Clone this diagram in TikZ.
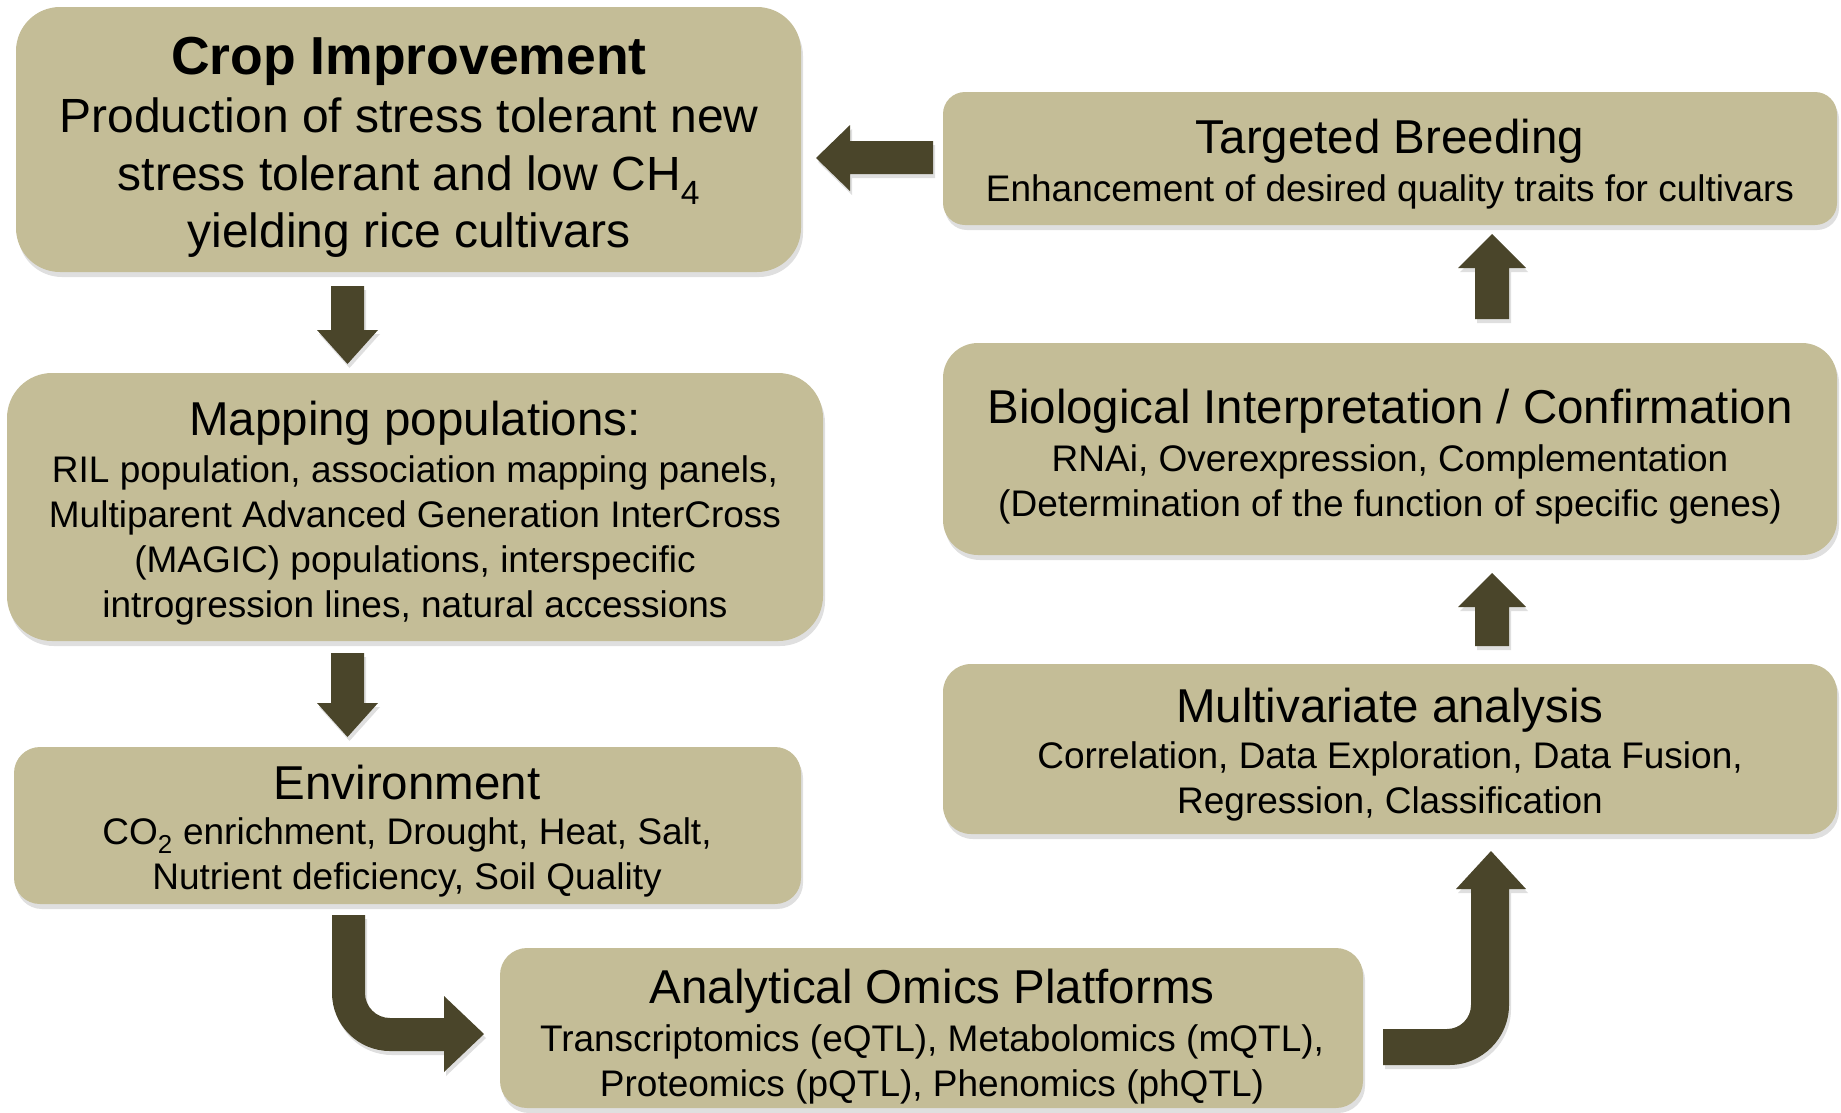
\documentclass[tikz,border=0pt]{standalone}
\usepackage{fontspec}
\setmainfont{Liberation Sans}
\usetikzlibrary{shadows}
\definecolor{boxtan}{HTML}{C4BD97}
\definecolor{arrowdk}{HTML}{4A452A}
\tikzset{
  box/.style={fill=boxtan, draw=none, inner sep=0pt, outer sep=0pt,
    drop shadow={shadow xshift=2pt, shadow yshift=-5pt, opacity=0.25}},
  ttl/.style={inner sep=0pt, text=black, font=\fontsize{47.5}{52}\selectfont},
  bdy/.style={inner sep=0pt, align=center, text=black, font=\fontsize{37}{45}\selectfont},
  blockarrow/.style={fill=arrowdk, draw=none,
    drop shadow={shadow xshift=2pt, shadow yshift=-4pt, opacity=0.25}}
}
\begin{document}
\begin{tikzpicture}[x=1pt,y=-1pt]
\useasboundingbox (0,0) rectangle (1841,1112);
% boxes
\node[box, rounded corners=44pt, minimum width=785pt, minimum height=265pt] (crop) at (408.5,139.5) {};
\node[box, rounded corners=22pt, minimum width=894pt, minimum height=133pt] (breed) at (1390,158.5) {};
\node[box, rounded corners=35pt, minimum width=894pt, minimum height=212pt] (bio) at (1390,449) {};
\node[box, rounded corners=28pt, minimum width=894pt, minimum height=170pt] (multi) at (1390,749) {};
\node[box, rounded corners=45pt, minimum width=816pt, minimum height=268pt] (mapping) at (415,507) {};
\node[box, rounded corners=26pt, minimum width=787pt, minimum height=157pt] (env) at (407.5,825.5) {};
\node[box, rounded corners=27pt, minimum width=863pt, minimum height=160pt] (omics) at (931.5,1028) {};
% texts
\node[inner sep=0pt, font=\fontsize{53.5}{57}\selectfont\bfseries] (cropT) at (409,61) {Crop Improvement};
\node[inner sep=0pt, align=center, font=\fontsize{48}{57.5}\selectfont] (cropB) at (409,178)
  {Production of stress tolerant new\\stress tolerant and low CH\textsubscript{4}\\yielding rice cultivars};
\node[ttl] (breedT) at (1390,141) {Targeted Breeding};
\node[bdy] (breedB) at (1390,192) {Enhancement of desired quality traits for cultivars};
\node[ttl] (bioT) at (1390,411) {Biological Interpretation / Confirmation};
\node[bdy] (bioB) at (1390,484) {RNAi, Overexpression, Complementation\\(Determination of the function of specific genes)};
\node[ttl] (multiT) at (1390,710) {Multivariate analysis};
\node[bdy] (multiB) at (1390,781) {Correlation, Data Exploration, Data Fusion,\\Regression, Classification};
\node[ttl] (mapT) at (415,423) {Mapping populations:};
\node[bdy] (mapB) at (415,540) {RIL population, association mapping panels,\\Multiparent Advanced Generation InterCross\\(MAGIC) populations, interspecific\\introgression lines, natural accessions};
\node[ttl] (envT) at (407,783) {Environment};
\node[bdy] (envB) at (407,857) {CO\textsubscript{2} enrichment, Drought, Heat, Salt,\\Nutrient deficiency, Soil Quality};
\node[ttl] (omicsT) at (932,991) {Analytical Omics Platforms};
\node[bdy] (omicsB) at (932,1064) {Transcriptomics (eQTL), Metabolomics (mQTL),\\Proteomics (pQTL), Phenomics (phQTL)};
% arrows
% breeding -> crop (left)
\fill[blockarrow] (933,141) -- (850,141) -- (850,125) -- (816,158) -- (850,191) -- (850,174) -- (933,174) -- cycle;
% bio -> breeding (up)
\fill[blockarrow] (1475,319) -- (1475,268) -- (1458,268) -- (1492,234) -- (1526,268) -- (1509,268) -- (1509,319) -- cycle;
% multi -> bio (up)
\fill[blockarrow] (1475,646) -- (1475,607) -- (1458,607) -- (1492,573) -- (1526,607) -- (1509,607) -- (1509,646) -- cycle;
% crop -> mapping (down)
\fill[blockarrow] (331,286) -- (364,286) -- (364,330) -- (378,330) -- (347.5,364) -- (317,330) -- (331,330) -- cycle;
% mapping -> env (down)
\fill[blockarrow] (331,653) -- (364,653) -- (364,703) -- (378,703) -- (347.5,737) -- (317,703) -- (331,703) -- cycle;
% env -> omics (bent)
\fill[blockarrow] (332,915) -- (365,915) -- (365,993) .. controls (365,1006.8) and (376.2,1018) .. (390,1018)
  -- (444,1018) -- (444,996) -- (484,1034) -- (444,1072) -- (444,1051) -- (390,1051)
  .. controls (358,1051) and (332,1025) .. (332,993) -- cycle;
% omics -> multi (bent up)
\fill[blockarrow] (1383,1029) -- (1447,1029) .. controls (1460.2,1029) and (1471,1018.2) .. (1471,1005)
  -- (1471,889) -- (1456,889) -- (1491,851) -- (1526,889) -- (1509,889) -- (1509,1005)
  .. controls (1509,1038.1) and (1482.1,1065) .. (1449,1065) -- (1383,1065) -- cycle;
\end{tikzpicture}
\end{document}
